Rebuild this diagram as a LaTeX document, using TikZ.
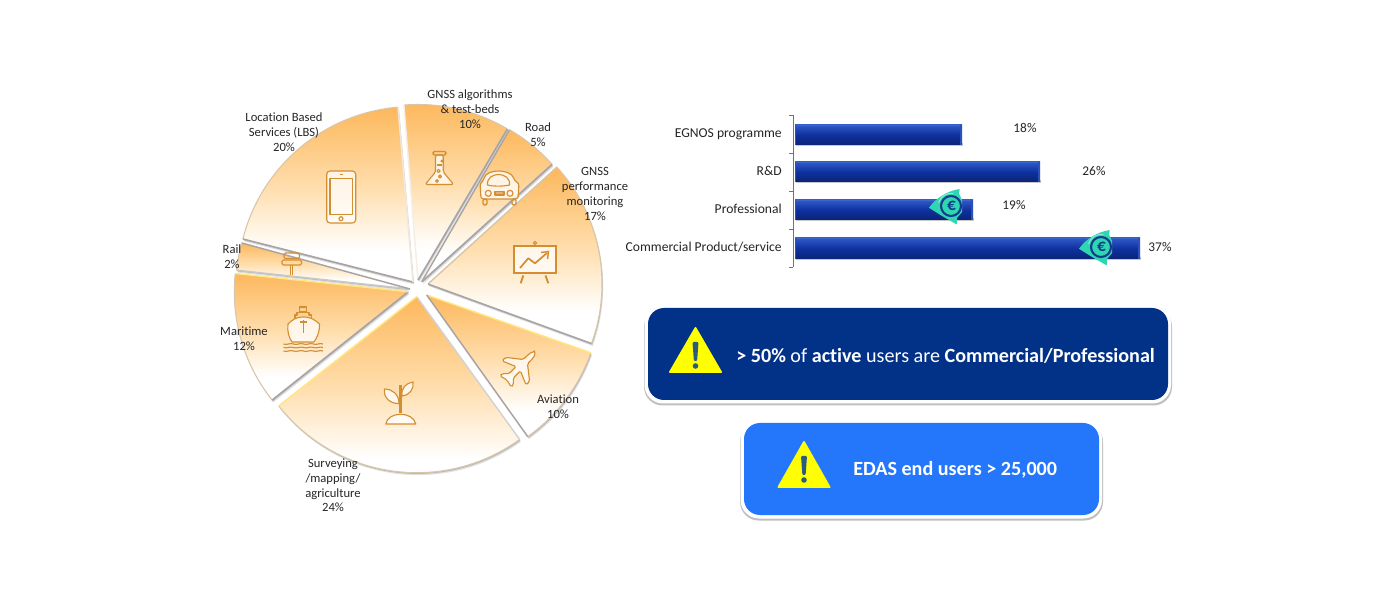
\documentclass[tikz,border=0pt]{standalone}
\usepackage{fontspec}
\setmainfont[Ligatures=NoCommon]{Carlito}
\usetikzlibrary{calc}
\definecolor{iconc}{HTML}{D48E32}
\definecolor{txt}{HTML}{262626}
\definecolor{edgeg}{HTML}{A8A4A4}
\definecolor{edgey}{HTML}{FFE680}
\definecolor{rimc}{HTML}{D9C6A8}
\definecolor{darkbox}{HTML}{023288}
\definecolor{lightbox}{HTML}{2476FA}
\definecolor{tealc}{HTML}{2FD6B2}
\definecolor{eurod}{HTML}{123C8C}
\definecolor{warn}{HTML}{FFFF00}
\definecolor{warnd}{HTML}{2A5C80}
\definecolor{bartop}{HTML}{2F5AC8}
\definecolor{barmid}{HTML}{0F319F}
\definecolor{barbot}{HTML}{0A2475}
\definecolor{barhi}{HTML}{3A66CC}
\pgfdeclareverticalshading{sliceshade}{100bp}{rgb(0bp)=(1,1,1); rgb(34bp)=(1,1,1); rgb(52bp)=(1,0.87,0.68); rgb(75bp)=(0.99,0.72,0.36); rgb(100bp)=(0.99,0.72,0.36)}
\tikzset{
  x=0.75pt,y=0.75pt,
  lab/.style={font=\fontsize{9.45}{11.1}\selectfont,text=txt,align=center,inner sep=0pt},
  barlab/.style={font=\fontsize{10.2}{11}\selectfont,text=txt,anchor=east,inner sep=0pt},
  pct/.style={font=\fontsize{10}{11}\selectfont,text=txt,inner sep=0pt},
  icon/.style={draw=iconc,line width=0.85pt,line join=round},
  iconw/.style={icon,fill=white,fill opacity=0.75},
  baraxis/.style={draw=black!55,line width=0.6pt},
  boxmsg/.style={font=\fontsize{15.1}{18}\selectfont,text=white,inner sep=0pt,anchor=west},
}
% cx cy a1 a2 R colour-at-a1 colour-at-a2
\newcommand{\pieslice}[7]{
  \fill[black!12] ($(#1,#2)+(1.2,-2.4)$) -- ++(#4:#5) arc[start angle=#4,end angle=#3,radius=#5] -- cycle;
  \fill[black!28] ($(#1,#2)+(0.6,-1.2)$) -- ++(#4:#5) arc[start angle=#4,end angle=#3,radius=#5] -- cycle;
  \shade[shading=sliceshade] (#1,#2) -- ++(#3:#5) arc[start angle=#3,end angle=#4,radius=#5] -- cycle;
  \draw[rimc,line width=0.8pt] ($(#1,#2)+(#3:#5)$) arc[start angle=#3,end angle=#4,radius=#5];
  \draw[#6,line width=1.1pt] (#1,#2) -- ++(#3:#5);
  \draw[#7,line width=1.1pt] (#1,#2) -- ++(#4:#5);
}
\newcommand{\hbarshape}[3]{% x2 y1 y2
  \fill[black!22] (796,-#3-1.5) rectangle (#1+1,-#3+2);
  \shade[top color=bartop,bottom color=barbot,middle color=barmid] (795,-#2) rectangle (#1,-#3);
  \fill[barhi] (795,-#2) rectangle (#1,-#2-1.4);
  \fill[barhi!60!barmid] (#1-1.6,-#2) rectangle (#1,-#3);
  \fill[barhi!60!barmid] (795,-#2) rectangle (796.4,-#3);
}
\newcommand{\euroicon}[2]{
  \begin{scope}[shift={(#1,-#2)}]
    \fill[tealc] (-22,-1.7) .. controls (-15,8) and (-4,15) .. (8.7,17) -- (8,12.5) -- (11,6) -- (11,-6) -- (6,-12) -- (5.7,-18.4) .. controls (-4,-13) and (-14,-7) .. (-22,-1.7) -- cycle;
    \draw[white!45!tealc,line width=0.7pt] (-12.5,3) arc[start angle=165,end angle=80,radius=13];
    \draw[eurod,line width=1.6pt,fill=tealc] (0,0) circle (10);
    \node[font=\fontsize{13}{13}\bfseries\selectfont,text=eurod,inner sep=0pt] at (0.5,0) {€};
  \end{scope}
}
\newcommand{\warntri}[4]{% x-centre ytop ybase colour-exclaim
  \fill[warn,draw=warn,line width=1.4pt,line join=round] (#1,-#2) -- (#1+25.5,-#3) -- (#1-25.5,-#3) -- cycle;
  \fill[#4,rounded corners=0.8pt] (#1-3,-#2-14) -- (#1+3,-#2-14) -- (#1+1.6,-#2-33) -- (#1-1.6,-#2-33) -- cycle;
  \fill[#4] (#1,-#2-38) circle (2.8);
}
\begin{document}
\begin{tikzpicture}
\useasboundingbox (0,0) rectangle (1382,-591);
\fill[white] (0,0) rectangle (1382,-591);

% pie slices
\pieslice{413}{-282}{165.8}{94.9}{175.5}{edgeg}{white!60!rimc}
\pieslice{410}{-289}{173.8}{164.7}{174.5}{edgeg!60!white}{edgeg}
\pieslice{418}{-280}{94.6}{59.4}{175.5}{white!70!rimc}{edgeg}
\pieslice{421.7}{-281.7}{60}{42}{175.5}{edgeg}{edgeg}
\pieslice{428}{-284}{42.2}{-20}{174}{rimc}{edgeg}
\pieslice{426.7}{-295}{-19.4}{-54.5}{174}{edgey}{edgeg}
\pieslice{416.7}{-296.7}{-54.2}{-141.6}{176}{edgeg!50!white}{edgey}
\pieslice{408.3}{-291.7}{-141.5}{-186}{174}{edgeg}{edgey}

% phone
\draw[iconw,rounded corners=2.5pt] (326.7,-171) rectangle (355.7,-223);
\draw[icon] (330,-178.3) rectangle (352.7,-214.3);
\draw[icon] (341,-218.7) circle (2);
\draw[icon,line width=1pt] (339.5,-174.7) -- (342.5,-174.7);
% flask
\draw[iconw,rounded corners=1.2pt] (435.5,-155) -- (435.5,-172) -- (425.2,-184.5) -- (453.7,-184.5) -- (443.3,-172) -- (443.3,-155) -- cycle;
\draw[icon,line width=1.1pt,rounded corners=1pt] (433,-151.5) rectangle (446,-155);
\draw[icon] (437,-165) -- (442,-165);
\draw[icon] (438.5,-171) circle (1.6) (440,-176.5) circle (1.5) (437,-181) circle (1.4) (442,-161) circle (1);
% car
\draw[iconw,rounded corners=2pt] (483.5,-181) .. controls (486,-168.5) and (511,-168.5) .. (514.5,-181) -- (519,-183) -- (518,-199) -- (481,-199) -- (480,-183) -- cycle;
\draw[icon] (487.5,-185) .. controls (486,-171) and (511,-171) .. (509.5,-185) .. controls (503,-186.5) and (493,-186.5) .. (487.5,-185) -- cycle;
\draw[icon] (488.3,-193.3) circle (3) (510,-193.3) circle (3);
\draw[icon,fill=iconc!70] (495,-191.5) rectangle (504,-195);
\draw[icon,line width=1pt,rounded corners=1pt] (483,-199) rectangle (487,-205);
\draw[icon,line width=1pt,rounded corners=1pt] (512,-199) rectangle (516,-205);
% presentation board
\draw[draw=iconc,line width=1.9pt,fill=white,fill opacity=0.75] (514,-246) rectangle (556,-273);
\draw[icon] (535,-243) circle (1.6);
\draw[icon,line width=1.4pt] (523.3,-275.5) -- (520.7,-283.3) (545.5,-275.5) -- (548.3,-283.3);
\draw[iconc,line width=1.3pt,line join=round] (520,-268) -- (528.3,-258.3) -- (535,-263.3) -- (547,-253);
\draw[iconc,line width=1.1pt] (541,-252.5) -- (548.5,-251.5) -- (547.5,-259);
% plane
\begin{scope}[shift={(519,-368)},rotate=45]
 \draw[iconw,rounded corners=1.2pt] (22,0) .. controls (20,3) and (14,3) .. (9,3) -- (-2,17) -- (-7,17) -- (-1,3) -- (-11,3) -- (-16,8) -- (-19,8) -- (-17,0) -- (-19,-8) -- (-16,-8) -- (-11,-3) -- (-1,-3) -- (-7,-17) -- (-2,-17) -- (9,-3) .. controls (14,-3) and (20,-3) .. (22,0) -- cycle;
\end{scope}
% sprout
\draw[iconw] (385.8,-424) .. controls (388,-411) and (413,-411) .. (415.8,-424) -- cycle;
\draw[icon] (399.5,-413) -- (399.5,-385) (401,-413) -- (401,-385);
\draw[iconw] (399,-403.5) .. controls (391,-404) and (383,-398) .. (384.5,-389) .. controls (392,-389) and (399,-394) .. (399,-403.5) -- cycle;
\draw[iconw] (402,-396) .. controls (410,-395) and (414,-389) .. (413,-382) .. controls (406,-383) and (401,-388) .. (402,-396) -- cycle;
% ship
\draw[icon] (299.5,-312) rectangle (306.5,-307);
\draw[icon] (295,-319) -- (295,-315) -- (297,-315) -- (297,-312.5) -- (309,-312.5) -- (309,-315) -- (311.5,-315) -- (311.5,-319);
\draw[iconw] (288,-324) .. controls (292,-320) and (296,-317) .. (303.5,-317) .. controls (311,-317) and (315,-320) .. (319.5,-324) .. controls (320,-331) and (317,-338) .. (314,-342) -- (292,-342) .. controls (289,-338) and (287,-331) .. (288,-324) -- cycle;
\draw[icon,line width=1pt] (303.5,-320) -- (303.5,-333) (300,-322) -- (307,-322);
\foreach \yy in {344,347.5,351}{
 \draw[icon] (283.5,-\yy) .. controls (287,-\yy-1.5) and (290,-\yy+1.5) .. (293.5,-\yy) .. controls (297,-\yy-1.5) and (300,-\yy+1.5) .. (303.5,-\yy) .. controls (307,-\yy-1.5) and (310,-\yy+1.5) .. (313.5,-\yy) .. controls (316,-\yy-1.5) and (320,-\yy+1.5) .. (323,-\yy);
}
% signpost
\draw[icon] (290.8,-265) -- (290.8,-275.5) (292.8,-265) -- (292.8,-275.5) (291.8,-253) -- (291.8,-251);
\draw[icon,rounded corners=1pt] (284,-253) rectangle (299.5,-258.5);
\draw[icon,rounded corners=1pt] (282,-260) rectangle (301.5,-265);

% pie labels
\node[lab] (lbs) at (284,-132) {Location Based\\Services (LBS)\\20\%};
\node[lab] (algo) at (470,-109) {GNSS algorithms\\\& test-beds\\10\%};
\node[lab] (road) at (538,-135) {Road\\5\%};
\node[lab] (perf) at (595,-194) {GNSS\\performance\\monitoring\\17\%};
\node[lab] (rail) at (232,-256.5) {Rail\\2\%};
\node[lab] (mari) at (244,-338.5) {Maritime\\12\%};
\node[lab] (avia) at (558,-406.5) {Aviation\\10\%};
\node[lab] (surv) at (333,-485.5) {Surveying\\/mapping/\\agriculture\\24\%};

% bars
\hbarshape{962}{125}{145}
\hbarshape{1040}{162}{182}
\hbarshape{973}{200}{220}
\hbarshape{1140}{238}{259}
\draw[baraxis] (793,-115) -- (793,-267);
\foreach \yy in {115,153,191,229,267}{\draw[baraxis] (789,-\yy) -- (793,-\yy);}
\node[barlab] (b1) at (782,-134) {EGNOS programme};
\node[barlab] (b2) at (782,-171) {R\&D};
\node[barlab] (b3) at (782,-209) {Professional};
\node[barlab] (b4) at (782,-247) {Commercial Product/service};
\node[pct] (p1) at (1025,-128) {18\%};
\node[pct] (p2) at (1094,-171) {26\%};
\node[pct] (p3) at (1014,-205) {19\%};
\node[pct] (p4) at (1160,-247) {37\%};
\euroicon{951}{206}
\euroicon{1101}{247}

% callouts
\fill[black!25,rounded corners=14pt] (644,-308) rectangle (1172,-405.5);
\fill[white,rounded corners=14pt] (644.5,-305) rectangle (1171,-403.5);
\fill[darkbox,rounded corners=12pt] (648,-308) rectangle (1168,-400);
\warntri{695.5}{328}{372}{warnd}
\node[boxmsg] (m1) at (736,-355.5) {\textbf{> 50\%} of \textbf{active} users are \textbf{Commercial/Professional}};
\fill[black!25,rounded corners=14pt] (740,-423) rectangle (1103,-520.5);
\fill[white,rounded corners=14pt] (740.5,-420) rectangle (1102,-518.5);
\fill[lightbox,rounded corners=12pt] (744,-423) rectangle (1099,-515);
\warntri{804}{442}{487}{warnd}
\node[boxmsg] (m2) at (853,-470) {\textbf{EDAS end users > 25,000}};
\end{tikzpicture}
\end{document}
